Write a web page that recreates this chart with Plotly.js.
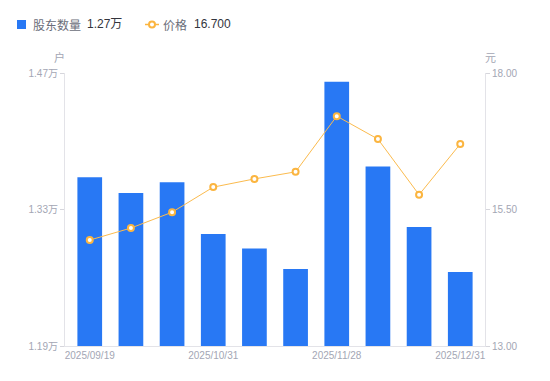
<!DOCTYPE html>
<html><head><meta charset="utf-8">
<script src="https://cdn.plot.ly/plotly-3.0.1.min.js"></script>
<style>html,body{margin:0;padding:0;background:#fff}#chart{width:550px;height:381px}</style>
</head><body><div id="chart"></div>
<script>
var dates = ['2025/09/19','2025/09/30','2025/10/20','2025/10/31','2025/11/10','2025/11/20','2025/11/28','2025/12/10','2025/12/20','2025/12/31'];
var holders = [1.363, 1.347, 1.358, 1.305, 1.290, 1.269, 1.461, 1.374, 1.312, 1.266];
var price = [14.94, 15.16, 15.45, 15.91, 16.06, 16.19, 17.21, 16.79, 15.77, 16.70];
var xTickDates = ['2025/09/19','2025/10/31','2025/11/28','2025/12/31'];
var leftTicks = [1.19, 1.33, 1.47];
var leftTickText = ['1.19万','1.33万','1.47万'];
var rightTicks = [13.00, 15.50, 18.00];
var legendHolders = '1.27万';
var legendPrice = '16.700';

var fontFam = 'Liberation Sans, Arial, Noto Sans CJK SC, sans-serif';
var gray = '#a3a6b4';
var W = 550, H = 381, ml = 65, mr = 65, mt = 73, mb = 35;
var pw = W - ml - mr, ph = H - mt - mb;
function px(x){ return (x - ml) / pw; }
function py(y){ return (H - mb - y) / ph; }

var traces = [
  {type:'bar', x:dates, y:holders, yaxis:'y', marker:{color:'#2878f4'}, hoverinfo:'none'},
  {type:'scatter', mode:'lines+markers', x:dates, y:price, yaxis:'y2',
   line:{color:'#fbbb4e', width:1},
   marker:{symbol:'circle', size:6, color:'#ffffff', line:{color:'#fbb540', width:2}}, hoverinfo:'none'}
];

var layout = {
  width:W, height:H, margin:{l:ml, r:mr, t:mt, b:mb},
  paper_bgcolor:'#fff', plot_bgcolor:'#fff', showlegend:false, bargap:0.4,
  font:{family:fontFam, color:gray, size:10},
  xaxis:{type:'category', tickmode:'array', tickvals:xTickDates, ticktext:xTickDates,
    showgrid:false, showline:true, linecolor:'#e3e3e8', linewidth:1, ticks:'', zeroline:false,
    tickfont:{size:10, color:gray, family:fontFam}, automargin:false},
  yaxis:{range:[1.19,1.47], tickvals:leftTicks, ticktext:leftTickText, showgrid:false, zeroline:false,
    showline:true, linecolor:'#e3e3e8', linewidth:1, ticks:'outside', ticklen:4, tickcolor:'#d6d6dc',
    tickfont:{size:10, color:gray, family:fontFam}, automargin:false},
  yaxis2:{range:[13,18], tickvals:rightTicks, tickformat:'.2f', overlaying:'y', side:'right',
    showgrid:false, zeroline:false, showline:true, linecolor:'#e3e3e8', linewidth:1,
    ticks:'outside', ticklen:4, tickcolor:'#d6d6dc',
    tickfont:{size:10, color:gray, family:fontFam}, automargin:false},
  shapes:[
    {type:'rect', xref:'paper', yref:'paper', x0:px(17), x1:px(26), y0:py(29), y1:py(20),
     fillcolor:'#2878f4', line:{width:0}},
    {type:'line', xref:'paper', yref:'paper', x0:px(145), x1:px(159), y0:py(24.5), y1:py(24.5),
     line:{color:'#fbb540', width:1.5}},
    {type:'circle', xref:'paper', yref:'paper', x0:px(149), x1:px(155), y0:py(27.5), y1:py(21.5),
     fillcolor:'#fff', line:{color:'#fbb540', width:2}}
  ],
  annotations:[
    {xref:'paper', yref:'paper', x:px(31), y:py(24.5), xanchor:'left', yanchor:'middle', showarrow:false,
     text:'股东数量', font:{size:12, color:'#6b6e7a', family:'Noto Sans CJK SC, sans-serif'}},
    {xref:'paper', yref:'paper', x:px(85), y:py(24.5), xanchor:'left', yanchor:'middle', showarrow:false,
     text:legendHolders, font:{size:12, color:'#33353d', family:fontFam}},
    {xref:'paper', yref:'paper', x:px(161), y:py(24.5), xanchor:'left', yanchor:'middle', showarrow:false,
     text:'价格', font:{size:12, color:'#6b6e7a', family:'Noto Sans CJK SC, sans-serif'}},
    {xref:'paper', yref:'paper', x:px(192), y:py(24.5), xanchor:'left', yanchor:'middle', showarrow:false,
     text:legendPrice, font:{size:12, color:'#33353d', family:fontFam}},
    {xref:'paper', yref:'paper', x:px(59), y:py(57), xanchor:'center', yanchor:'middle', showarrow:false,
     text:'户', font:{size:11, color:gray, family:'Noto Sans CJK SC, sans-serif'}},
    {xref:'paper', yref:'paper', x:px(490), y:py(57), xanchor:'center', yanchor:'middle', showarrow:false,
     text:'元', font:{size:11, color:gray, family:'Noto Sans CJK SC, sans-serif'}}
  ]
};
Plotly.newPlot('chart', traces, layout, {staticPlot:true, displayModeBar:false});
</script></body></html>
